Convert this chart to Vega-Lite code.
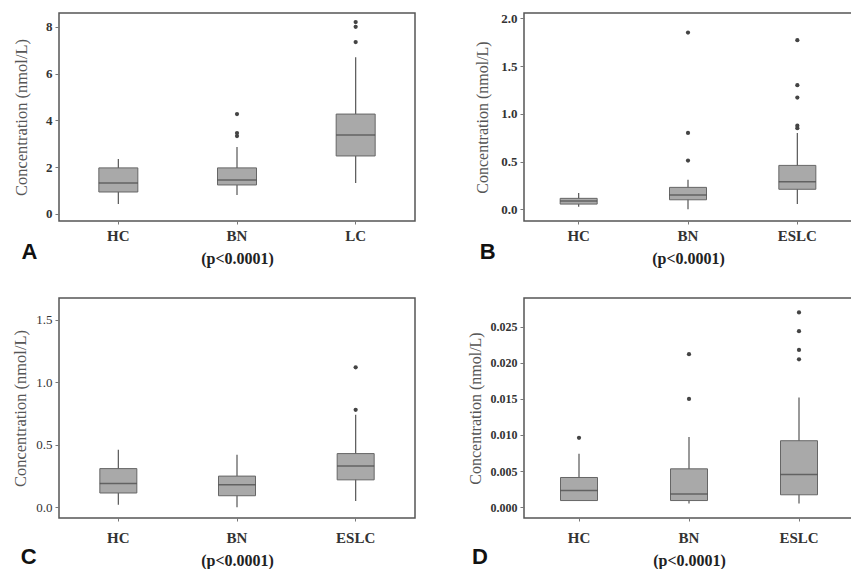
{
  "$schema": "https://vega.github.io/schema/vega-lite/v6.json",
  "padding": {"left": 12, "top": 11, "right": 0, "bottom": 0},
  "background": "white",
  "datasets": {
    "boxA": [
      {"group": "HC", "low": 0.43, "q1": 0.94, "median": 1.32, "q3": 1.97, "high": 2.35},
      {"group": "BN", "low": 0.81, "q1": 1.24, "median": 1.45, "q3": 1.97, "high": 2.86},
      {"group": "LC", "low": 1.32, "q1": 2.48, "median": 3.38, "q3": 4.27, "high": 6.7}
    ],
    "outA": [
      {"group": "BN", "value": 3.33}, {"group": "BN", "value": 3.46}, {"group": "BN", "value": 4.27},
      {"group": "LC", "value": 7.35}, {"group": "LC", "value": 8.0}, {"group": "LC", "value": 8.2}
    ],
    "boxB": [
      {"group": "HC", "low": 0.027, "q1": 0.055, "median": 0.087, "q3": 0.115, "high": 0.17},
      {"group": "BN", "low": 0.0, "q1": 0.1, "median": 0.15, "q3": 0.23, "high": 0.31},
      {"group": "ESLC", "low": 0.055, "q1": 0.21, "median": 0.29, "q3": 0.46, "high": 0.8}
    ],
    "outB": [
      {"group": "BN", "value": 0.51}, {"group": "BN", "value": 0.8}, {"group": "BN", "value": 1.85},
      {"group": "ESLC", "value": 0.85}, {"group": "ESLC", "value": 0.875}, {"group": "ESLC", "value": 1.17},
      {"group": "ESLC", "value": 1.3}, {"group": "ESLC", "value": 1.77}
    ],
    "boxC": [
      {"group": "HC", "low": 0.02, "q1": 0.115, "median": 0.19, "q3": 0.31, "high": 0.46},
      {"group": "BN", "low": 0.0, "q1": 0.093, "median": 0.18, "q3": 0.25, "high": 0.42},
      {"group": "ESLC", "low": 0.05, "q1": 0.22, "median": 0.33, "q3": 0.43, "high": 0.74}
    ],
    "outC": [
      {"group": "ESLC", "value": 0.78}, {"group": "ESLC", "value": 1.12}
    ],
    "boxD": [
      {"group": "HC", "low": 0.0009, "q1": 0.0009, "median": 0.0023, "q3": 0.0041, "high": 0.0074},
      {"group": "BN", "low": 0.0005, "q1": 0.0009, "median": 0.0018, "q3": 0.0053, "high": 0.0097},
      {"group": "ESLC", "low": 0.0005, "q1": 0.0017, "median": 0.0045, "q3": 0.0092, "high": 0.0152}
    ],
    "outD": [
      {"group": "HC", "value": 0.0096},
      {"group": "BN", "value": 0.015}, {"group": "BN", "value": 0.0212},
      {"group": "ESLC", "value": 0.0205}, {"group": "ESLC", "value": 0.0218},
      {"group": "ESLC", "value": 0.0244}, {"group": "ESLC", "value": 0.027}
    ]
  },
  "columns": 2,
  "bounds": "flush",
  "spacing": {"row": 77, "column": 109},
  "concat": [
    {
      "width": 356, "height": 208,
      "title": {"text": "A", "dx": 8, "offset": -24},
      "layer": [
        {"data": {"name": "boxA"}, "mark": {"type": "rule", "color": "#555", "strokeWidth": 1.2},
         "encoding": {
           "x": {"field": "group", "type": "nominal", "sort": ["HC", "BN", "LC"], "axis": {"title": "(p<0.0001)"}},
           "y": {"field": "low", "type": "quantitative", "scale": {"domain": [-0.3, 8.59], "nice": false, "zero": false},
                 "axis": {"title": "Concentration (nmol/L)", "values": [0, 2, 4, 6, 8], "titlePadding": 16, "labelFontSize": 13, "titleFontSize": 16.5}},
           "y2": {"field": "high"}}},
        {"data": {"name": "boxA"}, "mark": {"type": "bar", "size": 39, "fill": "#a9a9a9", "stroke": "#666", "strokeWidth": 1},
         "encoding": {
           "x": {"field": "group", "type": "nominal", "sort": ["HC", "BN", "LC"]},
           "y": {"field": "q1", "type": "quantitative"}, "y2": {"field": "q3"}}},
        {"data": {"name": "boxA"}, "mark": {"type": "tick", "size": 39, "thickness": 1.5, "color": "#444"},
         "encoding": {
           "x": {"field": "group", "type": "nominal", "sort": ["HC", "BN", "LC"]},
           "y": {"field": "median", "type": "quantitative"}}},
        {"data": {"name": "outA"}, "mark": {"type": "point", "filled": true, "size": 18, "color": "#444", "opacity": 1},
         "encoding": {
           "x": {"field": "group", "type": "nominal", "sort": ["HC", "BN", "LC"]},
           "y": {"field": "value", "type": "quantitative"}}}
      ]
    },
    {
      "width": 328, "height": 208,
      "title": {"text": "B", "dx": 5, "offset": -24},
      "layer": [
        {"data": {"name": "boxB"}, "mark": {"type": "rule", "color": "#555", "strokeWidth": 1.2},
         "encoding": {
           "x": {"field": "group", "type": "nominal", "sort": ["HC", "BN", "ESLC"], "axis": {"title": "(p<0.0001)"}},
           "y": {"field": "low", "type": "quantitative", "scale": {"domain": [-0.122, 2.055], "nice": false, "zero": false},
                 "axis": {"title": "Concentration (nmol/L)", "values": [0, 0.5, 1, 1.5, 2], "format": ".1f", "titlePadding": 10, "labelFontSize": 13, "titleFontSize": 16}},
           "y2": {"field": "high"}}},
        {"data": {"name": "boxB"}, "mark": {"type": "bar", "size": 37, "fill": "#a9a9a9", "stroke": "#666", "strokeWidth": 1},
         "encoding": {
           "x": {"field": "group", "type": "nominal", "sort": ["HC", "BN", "ESLC"]},
           "y": {"field": "q1", "type": "quantitative"}, "y2": {"field": "q3"}}},
        {"data": {"name": "boxB"}, "mark": {"type": "tick", "size": 37, "thickness": 1.5, "color": "#444"},
         "encoding": {
           "x": {"field": "group", "type": "nominal", "sort": ["HC", "BN", "ESLC"]},
           "y": {"field": "median", "type": "quantitative"}}},
        {"data": {"name": "outB"}, "mark": {"type": "point", "filled": true, "size": 18, "color": "#444", "opacity": 1},
         "encoding": {
           "x": {"field": "group", "type": "nominal", "sort": ["HC", "BN", "ESLC"]},
           "y": {"field": "value", "type": "quantitative"}}}
      ]
    },
    {
      "width": 356, "height": 220,
      "title": {"text": "C", "dx": 8, "offset": -21},
      "layer": [
        {"data": {"name": "boxC"}, "mark": {"type": "rule", "color": "#555", "strokeWidth": 1.2},
         "encoding": {
           "x": {"field": "group", "type": "nominal", "sort": ["HC", "BN", "ESLC"], "axis": {"title": "(p<0.0001)", "labelPadding": 9}},
           "y": {"field": "low", "type": "quantitative", "scale": {"domain": [-0.085, 1.674], "nice": false, "zero": false},
                 "axis": {"title": "Concentration (nmol/L)", "values": [0, 0.5, 1, 1.5], "format": ".1f", "titlePadding": 7, "labelFontSize": 13, "labelFontWeight": "normal", "titleFontSize": 16.5}},
           "y2": {"field": "high"}}},
        {"data": {"name": "boxC"}, "mark": {"type": "bar", "size": 37, "fill": "#a9a9a9", "stroke": "#666", "strokeWidth": 1},
         "encoding": {
           "x": {"field": "group", "type": "nominal", "sort": ["HC", "BN", "ESLC"]},
           "y": {"field": "q1", "type": "quantitative"}, "y2": {"field": "q3"}}},
        {"data": {"name": "boxC"}, "mark": {"type": "tick", "size": 37, "thickness": 1.5, "color": "#444"},
         "encoding": {
           "x": {"field": "group", "type": "nominal", "sort": ["HC", "BN", "ESLC"]},
           "y": {"field": "median", "type": "quantitative"}}},
        {"data": {"name": "outC"}, "mark": {"type": "point", "filled": true, "size": 18, "color": "#444", "opacity": 1},
         "encoding": {
           "x": {"field": "group", "type": "nominal", "sort": ["HC", "BN", "ESLC"]},
           "y": {"field": "value", "type": "quantitative"}}}
      ]
    },
    {
      "width": 330, "height": 220,
      "title": {"text": "D", "dx": 5, "offset": -21},
      "layer": [
        {"data": {"name": "boxD"}, "mark": {"type": "rule", "color": "#555", "strokeWidth": 1.2},
         "encoding": {
           "x": {"field": "group", "type": "nominal", "sort": ["HC", "BN", "ESLC"], "axis": {"title": "(p<0.0001)", "labelPadding": 9}},
           "y": {"field": "low", "type": "quantitative", "scale": {"domain": [-0.00152, 0.029], "nice": false, "zero": false},
                 "axis": {"title": "Concentration (nmol/L)", "values": [0, 0.005, 0.01, 0.015, 0.02, 0.025], "format": ".3f", "titlePadding": 7, "labelFontSize": 12, "titleFontSize": 16}},
           "y2": {"field": "high"}}},
        {"data": {"name": "boxD"}, "mark": {"type": "bar", "size": 37, "fill": "#a9a9a9", "stroke": "#666", "strokeWidth": 1},
         "encoding": {
           "x": {"field": "group", "type": "nominal", "sort": ["HC", "BN", "ESLC"]},
           "y": {"field": "q1", "type": "quantitative"}, "y2": {"field": "q3"}}},
        {"data": {"name": "boxD"}, "mark": {"type": "tick", "size": 37, "thickness": 1.5, "color": "#444"},
         "encoding": {
           "x": {"field": "group", "type": "nominal", "sort": ["HC", "BN", "ESLC"]},
           "y": {"field": "median", "type": "quantitative"}}},
        {"data": {"name": "outD"}, "mark": {"type": "point", "filled": true, "size": 18, "color": "#444", "opacity": 1},
         "encoding": {
           "x": {"field": "group", "type": "nominal", "sort": ["HC", "BN", "ESLC"]},
           "y": {"field": "value", "type": "quantitative"}}}
      ]
    }
  ],
  "config": {
    "view": {"stroke": "#555", "strokeWidth": 1.5},
    "title": {"orient": "bottom", "anchor": "start", "font": "Liberation Sans", "fontSize": 22, "fontWeight": "bold", "color": "#111"},
    "axis": {"grid": false, "domain": false, "tickColor": "#777", "tickSize": 4,
             "labelFont": "Liberation Serif", "labelFontWeight": "bold", "labelColor": "#333",
             "titleFont": "Liberation Serif", "titleColor": "#444"},
    "axisX": {"labelAngle": 0, "labelFontSize": 15, "labelPadding": 4, "titleFontSize": 16, "titleFontWeight": "bold", "titlePadding": 7, "titleColor": "#222", "tickSize": 3},
    "axisY": {"titleFontWeight": "normal", "titleColor": "#555", "labelPadding": 3}
  }
}
